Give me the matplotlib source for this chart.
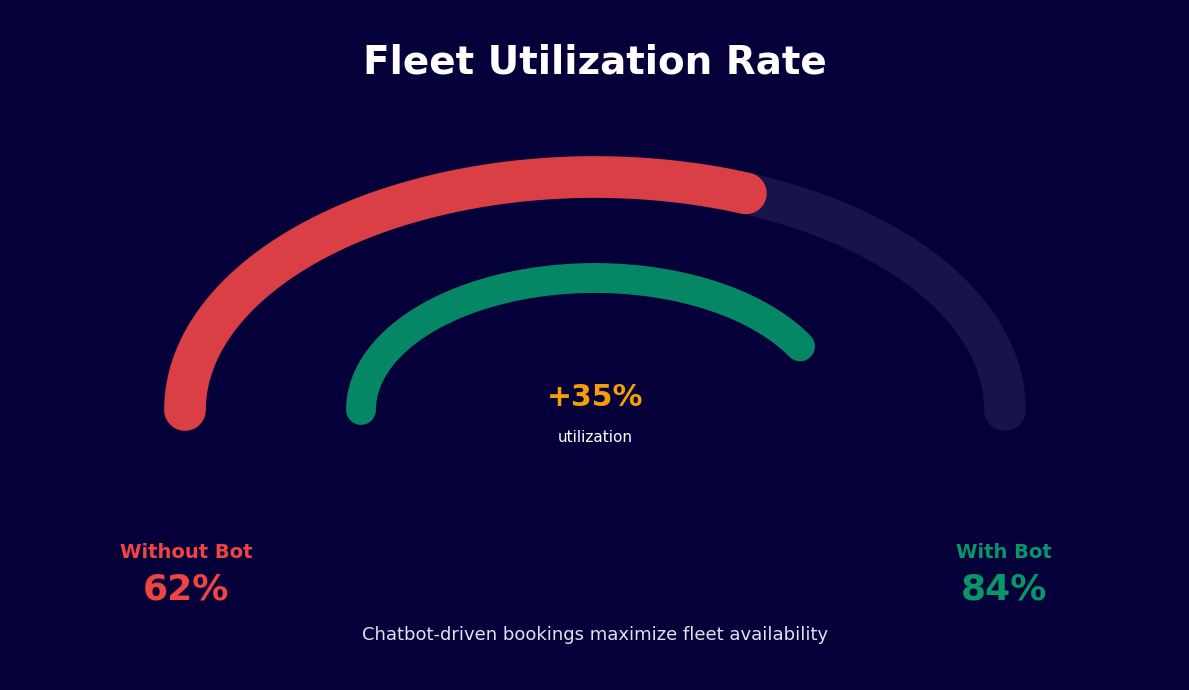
import matplotlib.pyplot as plt
import numpy as np

# gauge values (percent)
labels = ["Without Bot", "With Bot"]
values = [62, 84]
lift_text = "+35%"
lift_sub = "utilization"
title = "Fleet Utilization Rate"
footer = "Chatbot-driven bookings maximize fleet availability"

BG = "#06003A"
RED = "#EF4444"
GREEN = "#059669"
TRACK = "#17144A"
ORANGE = "#F59E0B"


def arc_points(pct, rx, ry, cx=595, cy=410, n=300):
    """Points along an upper half-ellipse, from the left end up to pct of 180 degrees"""
    theta = np.linspace(np.pi, np.pi - np.pi * pct / 100, n)
    return cx + rx * np.cos(theta), cy - ry * np.sin(theta)


fig = plt.figure(figsize=(11.89, 6.9), dpi=100, facecolor=BG)
ax = fig.add_axes([0, 0, 1, 1])
ax.set_facecolor(BG)
ax.set_xlim(0, 1189)
ax.set_ylim(690, 0)
ax.axis("off")

# outer gauge: background track then red value
x, y = arc_points(100, 410, 233)
ax.plot(x, y, color=TRACK, lw=30, solid_capstyle="round")
x, y = arc_points(values[0], 410, 233)
ax.plot(x, y, color=RED, lw=30, solid_capstyle="round", alpha=0.9)

# inner gauge
x, y = arc_points(values[1], 234, 132)
ax.plot(x, y, color=GREEN, lw=21.5, solid_capstyle="round", alpha=0.9)

ax.text(595, 63, title, color="white", fontsize=28, fontweight="bold",
        ha="center", va="center")
ax.text(595, 398, lift_text, color=ORANGE, fontsize=21.5, fontweight="bold",
        ha="center", va="center")
ax.text(595, 438, lift_sub, color="white", fontsize=11, ha="center", va="center")

ax.text(186, 553, labels[0], color=RED, fontsize=14, fontweight="bold",
        ha="center", va="center")
ax.text(186, 589, f"{values[0]}%", color=RED, fontsize=26, fontweight="bold",
        ha="center", va="center")
ax.text(1004, 553, labels[1], color=GREEN, fontsize=14, fontweight="bold",
        ha="center", va="center")
ax.text(1004, 589, f"{values[1]}%", color=GREEN, fontsize=26, fontweight="bold",
        ha="center", va="center")

ax.text(595, 635, footer, color="#E2E1EE", fontsize=13, ha="center", va="center")

fig.savefig("out.png", dpi=100, facecolor=BG)
